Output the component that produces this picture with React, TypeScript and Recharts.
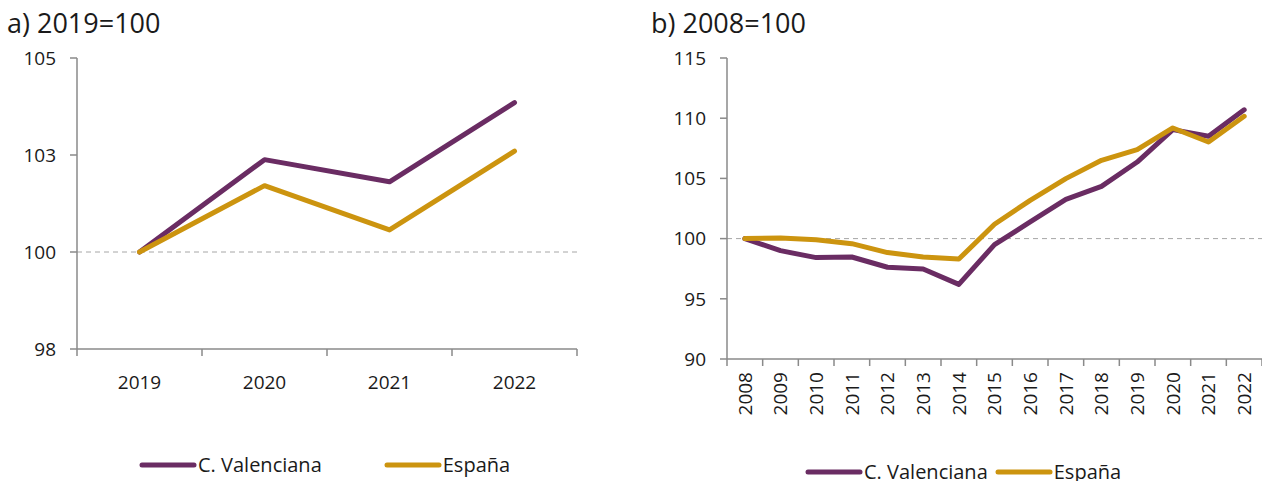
import React from "react";
import { LineChart, Line, XAxis, YAxis, ReferenceLine, Legend } from "recharts";

const PURPLE = "#6a2c63";
const GOLD = "#cc940f";
const AXIS = "#8a8a8a";
const TEXT = "#1a1a1a";
const FONT = "'Open Sans', 'Noto Sans', sans-serif";
const FS = 19;

// a) 2019=100
const yearsA = ["2019", "2020", "2021", "2022"];
const valenciaA = [100, 102.38, 101.81, 103.85];
const espanaA = [100, 101.71, 100.57, 102.6];
const yTicksA = [97.5, 100, 102.5, 105];

// b) 2008=100
const yearsB = [
  "2008", "2009", "2010", "2011", "2012", "2013", "2014", "2015",
  "2016", "2017", "2018", "2019", "2020", "2021", "2022",
];
const valenciaB = [
  100, 99.0, 98.42, 98.47, 97.62, 97.48, 96.2, 99.5,
  101.38, 103.26, 104.34, 106.36, 109.05, 108.5, 110.7,
];
const espanaB = [
  100, 100.05, 99.9, 99.58, 98.84, 98.47, 98.3, 101.19,
  103.18, 104.98, 106.5, 107.39, 109.19, 108.02, 110.16,
];
const yTicksB = [90, 95, 100, 105, 110, 115];

const toRows = (years: string[], cv: number[], es: number[]) =>
  years.map((y, i) => ({ i, year: y, cv: cv[i], es: es[i] }));

// ticks at category centres (labels) and at band edges (tick marks)
const halfTicks = (n: number) => {
  const t: number[] = [];
  for (let i = 0; i < n; i++) t.push(i - 0.5, i);
  t.push(n - 0.5);
  return t;
};

const dataA = toRows(yearsA, valenciaA, espanaA);
const dataB = toRows(yearsB, valenciaB, espanaB);

const TickA = (props: any) => {
  const { x, y, payload } = props;
  const v = payload.value;
  if (Number.isInteger(v)) {
    return (
      <text x={x} y={y + 40} textAnchor="middle" fill={TEXT} fontSize={FS} fontFamily={FONT}>
        {yearsA[v]}
      </text>
    );
  }
  return <line x1={x} x2={x} y1={y} y2={y + 7} stroke={AXIS} strokeWidth={1.5} />;
};

const TickB = (props: any) => {
  const { x, y, payload } = props;
  const v = payload.value;
  if (Number.isInteger(v)) {
    return (
      <text
        x={x}
        y={y + 13}
        transform={`rotate(-90, ${x}, ${y + 13})`}
        textAnchor="end"
        dy="0.36em"
        fill={TEXT}
        fontSize={FS}
        fontFamily={FONT}
      >
        {yearsB[v]}
      </text>
    );
  }
  return <line x1={x} x2={x} y1={y} y2={y + 7} stroke={AXIS} strokeWidth={1.5} />;
};

const LegendRow = ({ payload, gap }: any) => (
  <div style={{ display: "flex", alignItems: "center", fontFamily: FONT, fontSize: 20, color: TEXT }}>
    {(payload || []).map((p: any, k: number) => (
      <div key={p.value} style={{ display: "flex", alignItems: "center", marginLeft: k ? gap : 0 }}>
        <svg width={58} height={8}>
          <line x1={3} x2={55} y1={4} y2={4} stroke={p.color} strokeWidth={5} strokeLinecap="round" />
        </svg>
        <span style={{ marginLeft: 1, whiteSpace: "nowrap" }}>{p.value}</span>
      </div>
    ))}
  </div>
);

const title = (text: string, left: number) => (
  <div
    style={{
      position: "absolute",
      left,
      top: 6,
      fontFamily: FONT,
      fontSize: 27,
      color: TEXT,
      lineHeight: "34px",
    }}
  >
    {text}
  </div>
);

export default function App() {
  return (
    <div style={{ position: "absolute", left: 0, top: 0, width: 1262, height: 481, background: "#fff", overflow: "hidden" }}>
      {title("a) 2019=100", 7)}
      {title("b) 2008=100", 651)}

      <div style={{ position: "absolute", left: 0, top: 0 }}>
        <LineChart width={600} height={481} data={dataA} margin={{ top: 58, right: 23, left: 0, bottom: 102 }}>
          <XAxis
            dataKey="i"
            type="number"
            domain={[-0.5, yearsA.length - 0.5]}
            ticks={halfTicks(yearsA.length)}
            interval={0}
            tick={<TickA />}
            tickLine={false}
            tickSize={0}
            tickMargin={0}
            height={30}
            axisLine={{ stroke: AXIS, strokeWidth: 1.5 }}
          />
          <YAxis
            domain={[97.5, 105]}
            ticks={yTicksA}
            interval={0}
            width={77}
            tickFormatter={(v: number) => String(Math.round(v))}
            tick={{ fill: TEXT, fontSize: FS, fontFamily: FONT }}
            tickSize={7}
            tickMargin={14}
            tickLine={{ stroke: AXIS, strokeWidth: 1.5 }}
            axisLine={{ stroke: AXIS, strokeWidth: 1.5 }}
          />
          <ReferenceLine y={100} stroke="#a6a6a6" strokeDasharray="5 4" strokeWidth={1} />
          <Line name="C. Valenciana" dataKey="cv" stroke={PURPLE} strokeWidth={5} dot={false}
            strokeLinejoin="round" strokeLinecap="round" isAnimationActive={false} />
          <Line name="España" dataKey="es" stroke={GOLD} strokeWidth={5} dot={false}
            strokeLinejoin="round" strokeLinecap="round" isAnimationActive={false} />
          <Legend
            verticalAlign="middle"
            align="center"
            wrapperStyle={{ top: 451, left: 139, width: "auto" }}
            content={(p: any) => <LegendRow payload={p.payload} gap={62} />}
          />
        </LineChart>
      </div>

      <div style={{ position: "absolute", left: 640, top: 0 }}>
        <LineChart width={622} height={481} data={dataB} margin={{ top: 58, right: 0, left: 0, bottom: 62 }}>
          <XAxis
            dataKey="i"
            type="number"
            domain={[-0.5, yearsB.length - 0.5]}
            ticks={halfTicks(yearsB.length)}
            interval={0}
            tick={<TickB />}
            tickLine={false}
            tickSize={0}
            tickMargin={0}
            height={60}
            axisLine={{ stroke: AXIS, strokeWidth: 1.5 }}
          />
          <YAxis
            domain={[90, 115]}
            ticks={yTicksB}
            interval={0}
            width={87}
            tick={{ fill: TEXT, fontSize: FS, fontFamily: FONT }}
            tickSize={7}
            tickMargin={14}
            tickLine={{ stroke: AXIS, strokeWidth: 1.5 }}
            axisLine={{ stroke: AXIS, strokeWidth: 1.5 }}
          />
          <ReferenceLine y={100} stroke="#a6a6a6" strokeDasharray="5 4" strokeWidth={1} />
          <Line name="C. Valenciana" dataKey="cv" stroke={PURPLE} strokeWidth={5} dot={false}
            strokeLinejoin="round" strokeLinecap="round" isAnimationActive={false} />
          <Line name="España" dataKey="es" stroke={GOLD} strokeWidth={5} dot={false}
            strokeLinejoin="round" strokeLinecap="round" isAnimationActive={false} />
          <Legend
            verticalAlign="middle"
            align="center"
            wrapperStyle={{ top: 458, left: 165, width: "auto" }}
            content={(p: any) => <LegendRow payload={p.payload} gap={7} />}
          />
        </LineChart>
      </div>
    </div>
  );
}
